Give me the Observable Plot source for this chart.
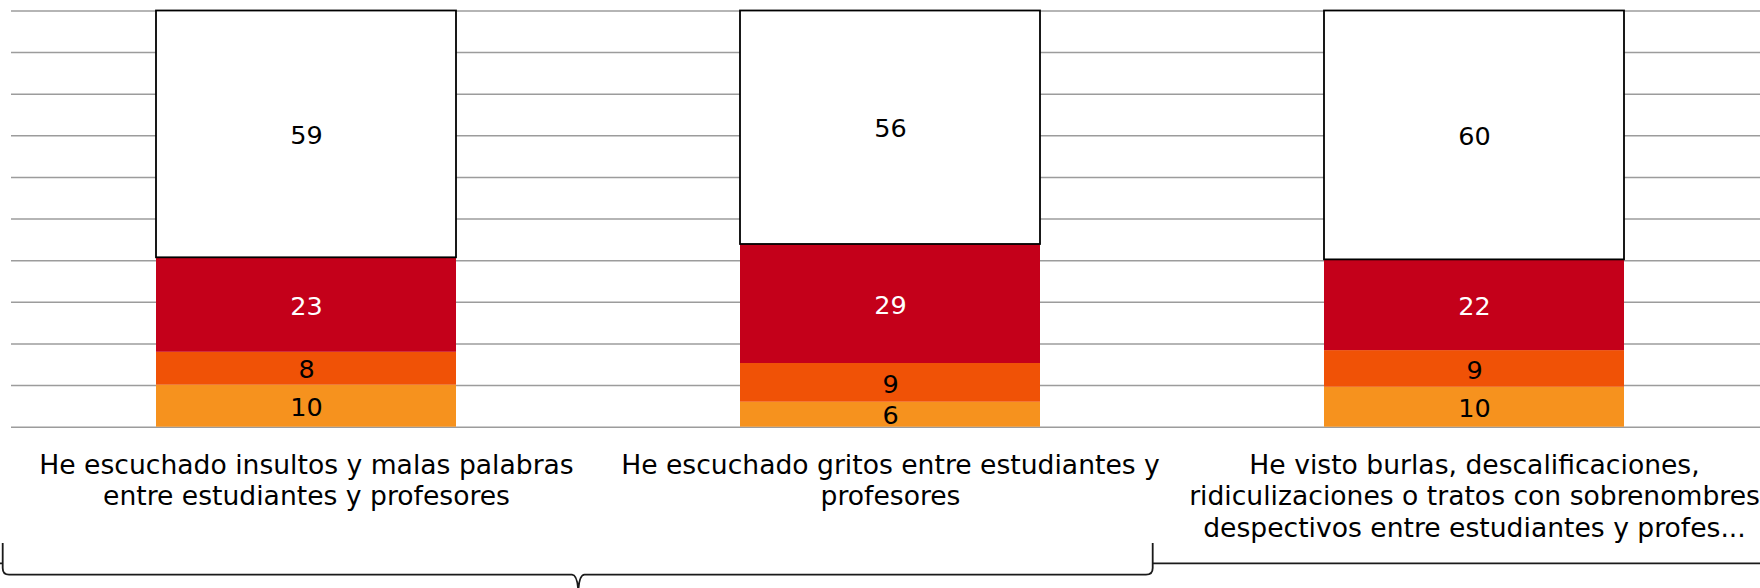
<!DOCTYPE html>
<html><head><meta charset="utf-8">
<script src="https://cdn.jsdelivr.net/npm/d3@7"></script>
<script src="https://cdn.jsdelivr.net/npm/@observablehq/plot@0.6"></script>
<style>
html,body{margin:0;padding:0;background:#fff;overflow:hidden}
#chart svg{display:block}
</style></head><body><div id="chart"></div>
<script>
// ---- data ----
const categories = [
  "He escuchado insultos y malas palabras entre estudiantes y profesores",
  "He escuchado gritos entre estudiantes y profesores",
  "He visto burlas, descalificaciones, ridiculizaciones o tratos con sobrenombres despectivos entre estudiantes y profes..."
];
const seriesNames = ["Serie 1", "Serie 2", "Serie 3", "Serie 4"];
const serie1 = [10.1, 6.0, 9.6];
const serie2 = [7.9, 9.3, 8.8];
const serie3 = [22.7, 28.6, 21.8];
const serie4 = [59.3, 56.1, 59.8];
const seriesColors = ["#f6921e", "#f05206", "#c4001a", "#ffffff"];
const labelColors = ["#000000", "#000000", "#ffffff", "#000000"];
const gridTicks = [0, 10, 20, 30, 40, 50, 60, 70, 80, 90, 100];

// ---- build table ----
const valueTable = [serie1, serie2, serie3, serie4];
const rows = [];
categories.forEach((c, i) => {
  let acc = 0;
  valueTable.forEach((vals, s) => {
    const v = vals[i];
    rows.push({cat: c, series: seriesNames[s], s, value: v, y1: acc, y2: acc + v});
    acc += v;
  });
});

const FONT = '"DejaVu Sans", Verdana, sans-serif';
const catSize = 26.6, valSize = 25.5;
const xRange = [12.3, 1766.6];
const stepW = (xRange[1] - xRange[0]) / categories.length;

const ctx = document.createElement("canvas").getContext("2d");
ctx.font = `${catSize}px "DejaVu Sans"`;
function wrap(text, maxW) {
  const words = text.split(" "); const lines = []; let line = "";
  for (const w of words) {
    const t = line ? line + " " + w : w;
    if (!line || ctx.measureText(t).width <= maxW) line = t;
    else { lines.push(line); line = w; }
  }
  if (line) lines.push(line);
  return lines.join("\n");
}

function brace(index, scales, values, dims) {
  const g = d3.create("svg:g").attr("fill", "none").attr("stroke", "#1a1a1a").attr("stroke-width", 1.8);
  const p = d3.path();
  p.moveTo(2.7, 543); p.lineTo(2.7, 568); p.quadraticCurveTo(2.7, 574.7, 9, 574.7);
  p.lineTo(572, 574.7); p.quadraticCurveTo(577.5, 575, 578.3, 592);
  p.moveTo(578.3, 592); p.quadraticCurveTo(579, 575, 584.5, 574.7);
  p.lineTo(1146, 574.7); p.quadraticCurveTo(1152.7, 574.7, 1152.7, 568); p.lineTo(1152.7, 543);
  p.moveTo(1152.7, 563.3); p.lineTo(dims.width, 563.3);
  p.moveTo(0, 563.3); p.lineTo(2.7, 563.3);
  g.append("path").attr("d", p.toString());
  return g.node();
}

const chart = Plot.plot({
  width: 1760,
  height: 588,
  marginTop: 10.5,
  marginBottom: 161.3,
  marginLeft: 11,
  marginRight: 0,
  style: {fontFamily: FONT, background: "#fff"},
  x: {type: "band", domain: categories, range: xRange, paddingInner: 0.487, paddingOuter: 0.2435, axis: null},
  y: {domain: [0, 100], axis: null},
  color: {type: "identity"},
  marks: [
    Plot.ruleY(gridTicks, {y: d => d, stroke: "#9c9c9c", strokeWidth: 1.5}),
    Plot.barY(rows, {x: "cat", y1: "y1", y2: "y2", fill: d => seriesColors[d.s]}),
    Plot.barY(rows.filter(d => d.s === 3), {x: "cat", y1: "y1", y2: "y2", fill: "none", stroke: "#000", strokeWidth: 1.8}),
    Plot.text(rows, {x: "cat", y: d => (d.y1 + d.y2) / 2, text: d => String(Math.round(d.value)),
      fill: d => labelColors[d.s], fontSize: valSize, dy: 1.5}),
    Plot.text(categories, {x: d => d, text: d => wrap(d, stepW), frameAnchor: "bottom", lineAnchor: "top",
      dy: 24, fontSize: catSize, lineHeight: 1.19, fill: "#000"}),
    brace
  ]
});
document.getElementById("chart").appendChild(chart);
</script>
</body></html>
